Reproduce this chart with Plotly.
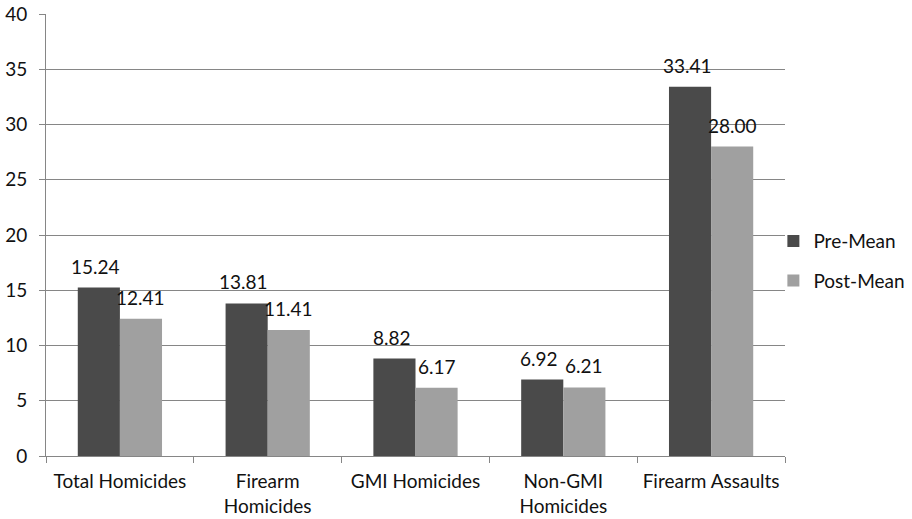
import plotly.graph_objects as go

categories = ["Total Homicides", "Firearm<br>Homicides", "GMI Homicides",
              "Non-GMI<br>Homicides", "Firearm Assaults"]
pre_mean = [15.24, 13.81, 8.82, 6.92, 33.41]
post_mean = [12.41, 11.41, 6.17, 6.21, 28.00]
y_ticks = [0, 5, 10, 15, 20, 25, 30, 35, 40]

FONT = "Lato, Open Sans, sans-serif"
SIZE = 19
BAR_PX = 42  # approximate pixel width of one bar, used to offset labels

fig = go.Figure()
fig.add_trace(go.Bar(
    name="Pre-Mean", x=categories, y=pre_mean, legendgroup="pre",
    marker=dict(color="#4a4a4a", line=dict(width=0)),
))
fig.add_trace(go.Bar(
    name="Post-Mean", x=categories, y=post_mean, legendgroup="post",
    marker=dict(color="#a0a0a0", line=dict(width=0)),
))

# value labels floating above each bar
for series, shift in ((pre_mean, -BAR_PX / 2 - 3), (post_mean, BAR_PX / 2)):
    for cat, val in zip(categories, series):
        fig.add_annotation(
            x=cat, y=val, text=f"{val:.2f}", showarrow=False,
            xshift=shift, yshift=8, yanchor="bottom",
            font=dict(size=SIZE, family=FONT, color="#111111"),
        )

fig.update_layout(
    width=912, height=519,
    margin=dict(l=46, r=127, t=14, b=63, autoexpand=False),
    paper_bgcolor="white", plot_bgcolor="white",
    barmode="group", bargap=0.43, bargroupgap=0,
    font=dict(family=FONT, size=SIZE, color="#111111"),
    legend=dict(
        xref="container", yref="container",
        x=0.848, y=0.497, xanchor="left", yanchor="middle",
        font=dict(size=SIZE, family=FONT), tracegroupgap=12,
        itemwidth=30, bgcolor="rgba(0,0,0,0)",
    ),
    showlegend=True,
)
fig.update_yaxes(
    range=[0, 40], tickvals=y_ticks, ticks="outside", ticklen=6,
    tickcolor="#868686", showgrid=True, gridcolor="#868686", gridwidth=1,
    showline=True, linecolor="#868686", linewidth=1, zeroline=False,
    tickfont=dict(size=SIZE, family=FONT), automargin=False,
    ticklabelstandoff=8,
)
fig.update_xaxes(
    ticks="outside", ticklen=6, tickcolor="#868686", tickson="boundaries",
    showline=True, linecolor="#868686", linewidth=1,
    tickfont=dict(size=SIZE, family=FONT), automargin=False,
    ticklabelstandoff=8,
)

fig.write_html("out.html")
